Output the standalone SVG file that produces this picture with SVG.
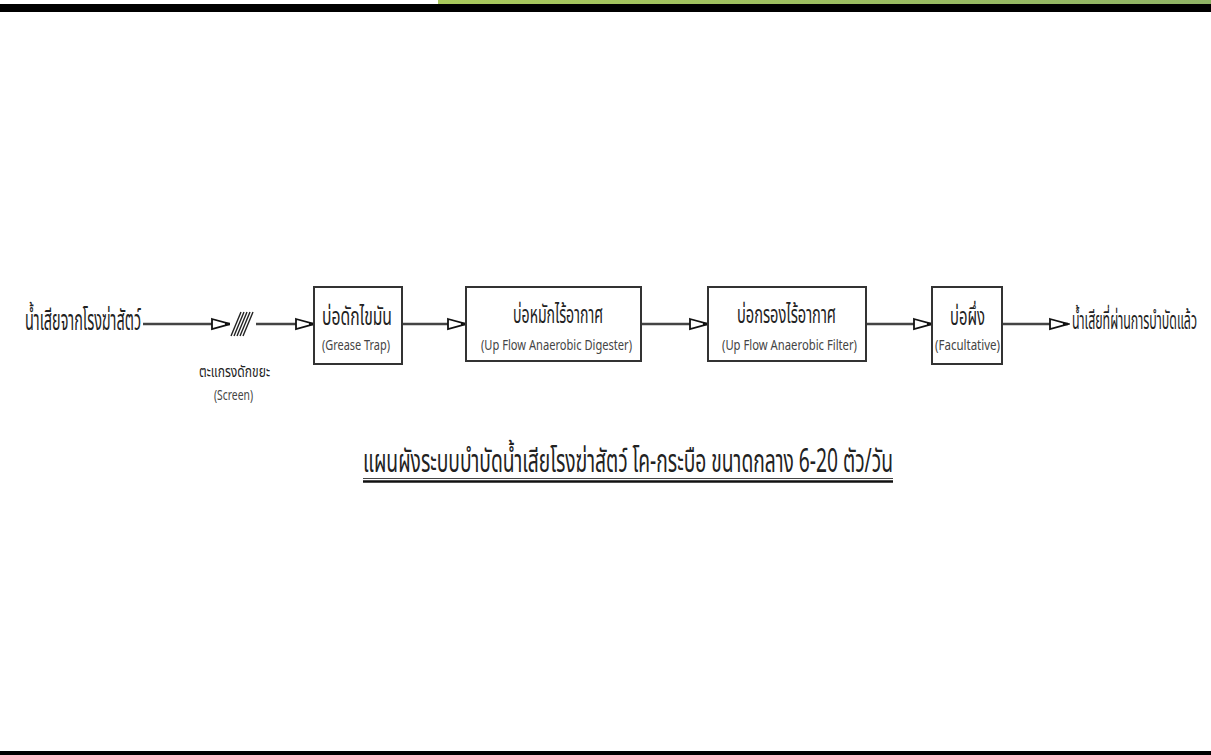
<svg xmlns="http://www.w3.org/2000/svg" width="1211" height="755" viewBox="0 0 1211 755">
<defs>
<linearGradient id="g" x1="0" x2="1" y1="0" y2="0">
<stop offset="0" stop-color="#a9c95c"/>
<stop offset="1" stop-color="#8fb365"/>
</linearGradient>
<marker id="arr" markerWidth="22" markerHeight="14" refX="20" refY="7" orient="auto" markerUnits="userSpaceOnUse">
<path d="M2,2 L20,7 L2,12 Z" fill="#fff" stroke="#111" stroke-width="1.8" stroke-linejoin="miter"/>
<path d="M15,5.5 L20,7 L15,8.5 Z" fill="#111"/>
</marker>
<style>
.box{fill:#fff;stroke:#333;stroke-width:2}
.ln{stroke:#444;stroke-width:2.6;fill:none}
.th{font-family:"Noto Sans Thai","Noto Sans","DejaVu Sans",sans-serif;fill:#222}
.en{font-family:"Noto Sans","Liberation Sans",sans-serif;fill:#444}
.big{font-size:24px}
.sm{font-size:15px}
.hat{stroke:#222;stroke-width:1.4}
</style>
</defs>
<rect width="1211" height="755" fill="#fff"/>
<rect x="438" y="0" width="773" height="4.5" fill="url(#g)"/>
<rect x="0" y="4" width="1211" height="8" fill="#000"/>
<rect x="0" y="751" width="1211" height="4" fill="#000"/>

<g id="connectors">
<line class="ln" x1="143" y1="324" x2="230" y2="324" marker-end="url(#arr)"/>
<line class="ln" x1="254" y1="324" x2="314" y2="324" marker-end="url(#arr)"/>
<line class="ln" x1="402" y1="324" x2="466" y2="324" marker-end="url(#arr)"/>
<line class="ln" x1="641" y1="324" x2="708" y2="324" marker-end="url(#arr)"/>
<line class="ln" x1="866" y1="324" x2="932" y2="324" marker-end="url(#arr)"/>
<line class="ln" x1="1002" y1="324" x2="1068" y2="324" marker-end="url(#arr)"/>
</g>

<g id="input">
<text class="th" font-size="28" x="25" y="330" textLength="116" lengthAdjust="spacingAndGlyphs">น้ำเสียจากโรงฆ่าสัตว์</text>
</g>

<g id="screen">
<rect x="230" y="312" width="26" height="25" fill="#fff"/>
<line class="hat" x1="231" y1="336" x2="241" y2="312"/>
<line class="hat" x1="234" y1="336" x2="244" y2="312"/>
<line class="hat" x1="237" y1="336" x2="247" y2="312"/>
<line class="hat" x1="240" y1="336" x2="250" y2="312"/>
<line class="hat" x1="243" y1="336" x2="253" y2="312"/>
<text class="th" font-size="16" x="199" y="377" textLength="71" lengthAdjust="spacingAndGlyphs">ตะแกรงดักขยะ</text>
<text class="en sm" x="214" y="400" textLength="39" lengthAdjust="spacingAndGlyphs">(Screen)</text>
</g>

<g id="grease-trap">
<rect class="box" x="314" y="287" width="88" height="77"/>
<text class="th big" x="322" y="325" textLength="70" lengthAdjust="spacingAndGlyphs">บ่อดักไขมัน</text>
<text class="en sm" x="322" y="350" textLength="68" lengthAdjust="spacingAndGlyphs">(Grease Trap)</text>
</g>

<g id="digester">
<rect class="box" x="466" y="287" width="175" height="74"/>
<text class="th big" x="513" y="323" textLength="90" lengthAdjust="spacingAndGlyphs">บ่อหมักไร้อากาศ</text>
<text class="en sm" x="481" y="350" textLength="151" lengthAdjust="spacingAndGlyphs">(Up Flow Anaerobic Digester)</text>
</g>

<g id="filter">
<rect class="box" x="708" y="287" width="158" height="74"/>
<text class="th big" x="737" y="323" textLength="99" lengthAdjust="spacingAndGlyphs">บ่อกรองไร้อากาศ</text>
<text class="en sm" x="722" y="350" textLength="135" lengthAdjust="spacingAndGlyphs">(Up Flow Anaerobic Filter)</text>
</g>

<g id="facultative">
<rect class="box" x="932" y="287" width="70" height="77"/>
<text class="th big" x="950" y="325" textLength="35" lengthAdjust="spacingAndGlyphs">บ่อผึ่ง</text>
<text class="en sm" x="935" y="350" textLength="65" lengthAdjust="spacingAndGlyphs">(Facultative)</text>
</g>

<g id="output">
<text class="th big" x="1072" y="329" textLength="125" lengthAdjust="spacingAndGlyphs">น้ำเสียที่ผ่านการบำบัดแล้ว</text>
</g>

<g id="title">
<text class="th" font-size="32" x="363" y="472" textLength="530" lengthAdjust="spacingAndGlyphs">แผนผังระบบบำบัดน้ำเสียโรงฆ่าสัตว์ โค-กระบือ ขนาดกลาง 6-20 ตัว/วัน</text>
<line x1="363" y1="478.5" x2="893" y2="478.5" stroke="#444" stroke-width="1"/>
<line x1="363" y1="481.5" x2="893" y2="481.5" stroke="#111" stroke-width="2.5"/>
</g>
</svg>
